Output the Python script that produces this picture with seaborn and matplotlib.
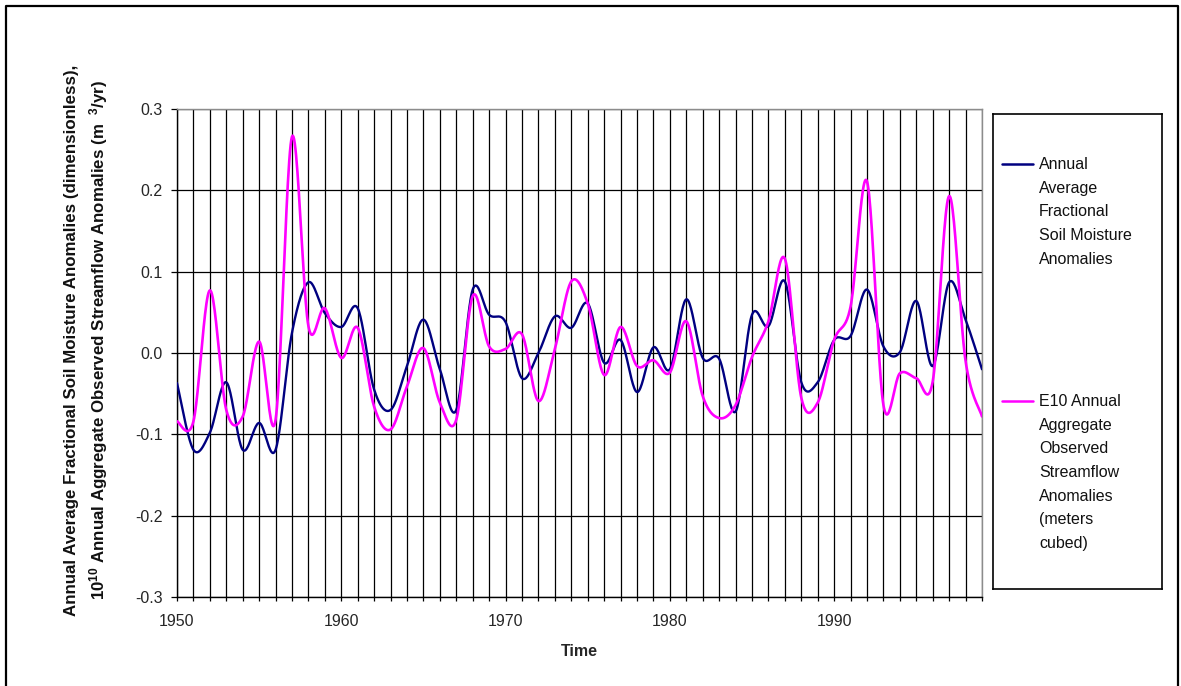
import numpy as np
import pandas as pd
import matplotlib
matplotlib.use("Agg")
import matplotlib.pyplot as plt
import seaborn as sns
from matplotlib.ticker import MultipleLocator, FuncFormatter
from matplotlib.lines import Line2D

# ---------------- data ----------------
years = list(range(1950, 2000))
soil_moisture = [
    -0.037, -0.119, -0.098, -0.036, -0.119, -0.086, -0.119, 0.025, 0.087, 0.049,
    0.032, 0.055, -0.045, -0.070, -0.016, 0.041, -0.020, -0.070, 0.078, 0.047,
    0.038, -0.031, 0.000, 0.045, 0.031, 0.061, -0.012, 0.016, -0.048, 0.007,
    -0.020, 0.066, -0.006, -0.007, -0.072, 0.047, 0.033, 0.088, -0.036, -0.036,
    0.016, 0.021, 0.078, 0.008, 0.001, 0.064, -0.016, 0.087, 0.041, -0.020,
]
streamflow = [
    -0.084, -0.084, 0.077, -0.070, -0.078, 0.014, -0.082, 0.266, 0.033, 0.055,
    -0.006, 0.031, -0.066, -0.094, -0.041, 0.006, -0.061, -0.082, 0.070, 0.008,
    0.005, 0.023, -0.059, 0.005, 0.088, 0.061, -0.027, 0.032, -0.016, -0.009,
    -0.024, 0.039, -0.053, -0.080, -0.064, -0.005, 0.039, 0.116, -0.055, -0.061,
    0.016, 0.057, 0.211, -0.064, -0.025, -0.031, -0.035, 0.193, -0.010, -0.078,
]
label_soil = "Annual\nAverage\nFractional\nSoil Moisture\nAnomalies"
label_stream = "E10 Annual\nAggregate\nObserved\nStreamflow\nAnomalies\n(meters\ncubed)"
ylabel_text = ("Annual Average Fractional Soil Moisture Anomalies (dimensionless),\n"
               "$10^{10}$ Annual Aggregate Observed Streamflow Anomalies (m  $^{3}$/yr)")
xlabel_text = "Time"

NAVY = "#000080"
MAGENTA = "#FF00FF"


def excel_smooth(x, y, n=24):
    """Excel-style smoothed line rendering (cubic Bezier, Catmull-Rom tangents)."""
    x = np.asarray(x, float)
    y = np.asarray(y, float)
    m = len(x)
    xs, ys = [], []
    t = np.linspace(0, 1, n, endpoint=False)
    for i in range(m - 1):
        i0, i3 = max(i - 1, 0), min(i + 2, m - 1)
        p0 = np.array([x[i], y[i]])
        p3 = np.array([x[i + 1], y[i + 1]])
        c1 = p0 + (np.array([x[i + 1], y[i + 1]]) - np.array([x[i0], y[i0]])) / 6.0
        c2 = p3 - (np.array([x[i3], y[i3]]) - np.array([x[i], y[i]])) / 6.0
        b = ((1 - t) ** 3)[:, None] * p0 + (3 * (1 - t) ** 2 * t)[:, None] * c1 \
            + (3 * (1 - t) * t ** 2)[:, None] * c2 + (t ** 3)[:, None] * p3
        xs.append(b[:, 0])
        ys.append(b[:, 1])
    xs.append([x[-1]])
    ys.append([y[-1]])
    return np.concatenate(xs), np.concatenate(ys)


sns.set_style("white")
plt.rcParams["font.family"] = ["Liberation Sans", "DejaVu Sans"]
plt.rcParams["mathtext.fontset"] = "custom"
plt.rcParams["mathtext.rm"] = "Liberation Sans:bold"
plt.rcParams["mathtext.default"] = "rm"

W, H = 1181, 686
fig = plt.figure(figsize=(W / 100, H / 100), dpi=100)
fig.patch.set_facecolor("white")

L, R, T, B = 177, 982, 109, 597
ax = fig.add_axes([L / W, (H - B) / H, (R - L) / W, (B - T) / H])

sx, sy = excel_smooth(years, soil_moisture)
mx, my = excel_smooth(years, streamflow)
sns.lineplot(x=sx, y=sy, ax=ax, color=NAVY, linewidth=1.7, estimator=None, sort=False, zorder=3)
sns.lineplot(x=mx, y=my, ax=ax, color=MAGENTA, linewidth=1.9, estimator=None, sort=False, zorder=4)

ax.set_xlim(1950, 1999)
ax.set_ylim(-0.3, 0.3)
ax.xaxis.set_major_locator(MultipleLocator(10))
ax.xaxis.set_minor_locator(MultipleLocator(1))
ax.xaxis.set_major_formatter(FuncFormatter(lambda v, p: f"{int(round(v))}"))
ax.yaxis.set_major_locator(MultipleLocator(0.1))
ax.yaxis.set_major_formatter(FuncFormatter(lambda v, p: "0.0" if abs(v) < 1e-9 else f"{v:.1f}"))

ax.set_axisbelow(True)
ax.grid(True, which="both", axis="x", color="black", linewidth=0.9)
ax.grid(True, which="major", axis="y", color="black", linewidth=0.9)

ax.tick_params(axis="y", which="major", direction="out", length=4.5, width=0.9, color="black",
               pad=6, labelsize=11.5, left=True)
ax.tick_params(axis="x", which="both", direction="out", length=3, width=0.9, color="black",
               pad=9, labelsize=11.5, bottom=True)
for s in ["left", "bottom"]:
    ax.spines[s].set_color("black")
    ax.spines[s].set_linewidth(1.0)
for s in ["top", "right"]:
    ax.spines[s].set_color("#8c8c8c")
    ax.spines[s].set_linewidth(1.0)

ax.set_xlabel(xlabel_text, fontsize=11.5, fontweight="bold", va="center")
ax.xaxis.set_label_coords(0.5, (B - 651) / (B - T))
ax.set_ylabel(ylabel_text, fontsize=12.2, fontweight="bold", va="center", linespacing=1.5,
              family=["Liberation Sans", "DejaVu Sans"], color="#111111")
ax.yaxis.set_label_coords((87 - L) / (R - L), (B - 340) / (B - T))

# ---------------- legend box ----------------
lL, lR, lT, lB = 993, 1162, 114, 589
lax = fig.add_axes([lL / W, (H - lB) / H, (lR - lL) / W, (lB - lT) / H])
lax.set_xlim(0, lR - lL)
lax.set_ylim(lB - lT, 0)
lax.set_xticks([])
lax.set_yticks([])
for s in lax.spines.values():
    s.set_color("black")
    s.set_linewidth(1.2)
entries = [(label_soil, NAVY, 164 - lT), (label_stream, MAGENTA, 401 - lT)]
for text, col, yc in entries:
    lax.plot([1002 - lL, 1033 - lL], [yc, yc], color=col, linewidth=1.8)
    lax.text(1039 - lL, yc - 7, text, fontsize=11.5, va="top", ha="left",
             linespacing=1.72, color="#111111")

# outer chart border (left, top, right)
fig.add_artist(Line2D([6 / W, 6 / W, 1178 / W, 1178 / W], [0, 1 - 6 / H, 1 - 6 / H, 0],
                      transform=fig.transFigure, color="black", linewidth=1.6))

fig.savefig("out.png", dpi=100, facecolor="white")
